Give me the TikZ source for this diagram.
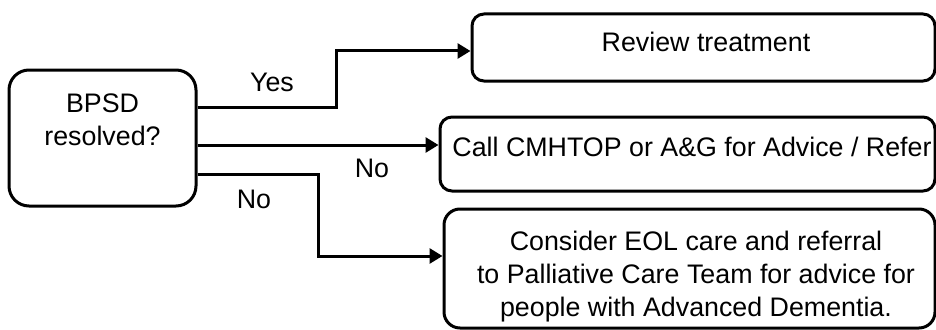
\documentclass[tikz,border=0pt]{standalone}
\usepackage{fontspec}
\setmainfont{Liberation Sans}
\usetikzlibrary{arrows.meta}
\begin{document}
\begin{tikzpicture}[x=1pt,y=-1pt,
  box/.style={draw=black, line width=3pt, fill=white, inner sep=0pt},
  txt/.style={inner sep=0pt, align=center, font=\fontsize{26.8}{32.8}\selectfont, anchor=base},
  arr/.style={line width=3pt, -{Triangle[length=13pt,width=15pt]}},
  lbl/.style={inner sep=0pt, font=\fontsize{26.8}{32.8}\selectfont, anchor=base}]
\useasboundingbox (0,0) rectangle (936,329);
\clip (0,0) rectangle (936,329);
% boxes
\node[box, rounded corners=20pt, minimum width=187pt, minimum height=136pt] (bpsd) at (102.5,138) {};
\node[box, rounded corners=12pt, minimum width=463pt, minimum height=67pt] (review) at (703.5,47.5) {};
\node[box, rounded corners=12pt, minimum width=495pt, minimum height=74pt] (call) at (687.5,154) {};
\node[box, rounded corners=16pt, minimum width=491pt, minimum height=119pt] (eol) at (689.5,268.5) {};
% texts
\node[txt] (bpsdtxt) at (102.5,145) {BPSD\\resolved?};
\node[txt] (reviewtxt) at (706,52) {Review treatment};
\node[txt] (calltxt) at (692,156) {Call CMHTOP or A\&G for Advice / Refer};
\node[txt] (eoltxt) at (696,316) {Consider EOL care and referral\\to Palliative Care Team for advice for\\people with Advanced Dementia.};
% connectors
\draw[arr] (bpsd.east |- 0,107) -- (336,107) |- (review.west |- 0,51);
\draw[arr] (bpsd.east |- 0,145) -- (call.west |- 0,145);
\draw[arr] (bpsd.east |- 0,174) -- (318,174) |- (eol.west |- 0,256);
% labels
\node[lbl] (yes) at (272,91) {Yes};
\node[lbl] (no1) at (372,177) {No};
\node[lbl] (no2) at (254,208) {No};
\end{tikzpicture}
\end{document}
